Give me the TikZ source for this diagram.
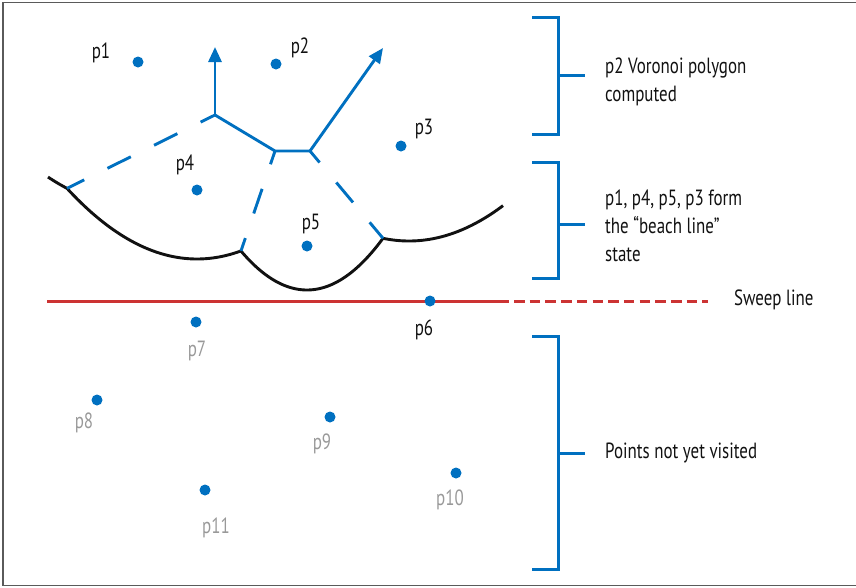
\documentclass[tikz,border=0pt]{standalone}
\usepackage{fontspec}
\setmainfont[FakeStretch=0.77]{PT Sans}
\usepackage{xcolor}
\usepackage{tikz}
\usetikzlibrary{arrows.meta}
\definecolor{vor}{HTML}{0070C0}
\definecolor{sweep}{HTML}{CC3333}
\definecolor{ink}{HTML}{111111}
\definecolor{later}{HTML}{999999}
\definecolor{frame}{HTML}{5A5A5A}
\tikzset{
  site/.style={circle,fill=vor,inner sep=0pt,minimum size=11pt},
  lbl/.style={font=\fontsize{22}{28}\selectfont,text=ink,inner sep=0pt},
  lbllater/.style={lbl,text=later},
  note/.style={lbl,align=left,anchor=west},
  edge/.style={draw=vor,line width=2.9pt},
  ray/.style={edge,-{Triangle[length=15pt,width=13pt]}},
  openedge/.style={edge,dash pattern=on 26pt off 26pt,dash phase=10pt},
  beach/.style={draw=ink,line width=2.9pt},
  sweepline/.style={draw=sweep,line width=3pt},
  brace/.style={draw=vor,line width=3pt}
}

\begin{document}
\begin{tikzpicture}[x=1pt,y=-1pt]
  \useasboundingbox (0,0) rectangle (856,587);
  \draw[frame,line width=1.5pt] (856,2.5) -- (3,2.5) -- (3,585.5) -- (856,585.5);

  % sweep line
  \coordinate (s0) at (47,301); \coordinate (s1) at (509,301);
  \coordinate (s2) at (514,301); \coordinate (s3) at (708,301);
  \draw[sweepline] (s0) -- (s1);
  \draw[sweepline,dash pattern=on 10.5pt off 5.2pt] (s2) -- (s3);
  \node[lbl,anchor=west] (sw) at (734,300) {Sweep line};

  % beach line
  \coordinate (f) at (67,188.4); \coordinate (d) at (241,250.9); \coordinate (e) at (383,238.3);
  \draw[beach] plot[domain=48:67,samples=10] (\x,{207-0.37*((\x-138)/10)^2});
  \draw[beach] plot[domain=67:241,samples=50] (\x,{259-0.418*((\x-197)/10)^2});
  \draw[beach] plot[domain=241:383,samples=50] (\x,{290-0.895*((\x-307)/10)^2});
  \draw[beach] plot[domain=383:503,samples=40] (\x,{241-0.4*((\x-409)/10)^2});

  % voronoi edges
  \coordinate (a) at (215,115); \coordinate (b) at (275,151); \coordinate (c) at (310,151);
  \coordinate (ta) at (215,47); \coordinate (tc) at (383,48);
  \draw[ray] (a) -- (ta);
  \draw[ray] (c) -- (tc);
  \draw[edge,line join=round] (a) -- (b) -- (c);
  \draw[openedge] (a) -- (f);
  \draw[openedge,dash phase=12pt] (b) -- (d);
  \draw[openedge,dash phase=11pt] (c) -- (e);

  % sites
  \node[site] (p1) at (138,62) {};  \node[lbl] (l1) at (101,53) {p1};
  \node[site] (p2) at (276,64) {};  \node[lbl] (l2) at (300,48) {p2};
  \node[site] (p3) at (401,146) {}; \node[lbl] (l3) at (424,129) {p3};
  \node[site] (p4) at (197,190) {}; \node[lbl] (l4) at (185,165) {p4};
  \node[site] (p5) at (307,246) {}; \node[lbl] (l5) at (311,224) {p5};
  \node[site] (p6) at (430,301) {}; \node[lbl] (l6) at (424,330) {p6};
  \node[site] (p7) at (196,322) {}; \node[lbllater] (l7) at (197,351) {p7};
  \node[site] (p8) at (97,400) {};  \node[lbllater] (l8) at (84,423) {p8};
  \node[site] (p9) at (330,417) {}; \node[lbllater] (l9) at (322,444) {p9};
  \node[site] (p10) at (456,473) {}; \node[lbllater] (l10) at (450,500) {p10};
  \node[site] (p11) at (205,490) {}; \node[lbllater] (l11) at (216,528) {p11};

  % brackets
  \draw[brace] (532,17) -- (558,17) -- (558,134) -- (532,134) (558,75) -- (585,75);
  \node[note] (n1) at (605,82) {p2 Voronoi polygon\\computed};
  \draw[brace] (532,162) -- (558,162) -- (558,278) -- (532,278) (558,224) -- (585,224);
  \node[note] (n2) at (605,226) {p1, p4, p5, p3 form\\the “beach line”\\state};
  \draw[brace] (532,336) -- (558,336) -- (558,569) -- (532,569) (558,453) -- (585,453);
  \node[note] (n3) at (605,453) {Points not yet visited};
\end{tikzpicture}
\end{document}
